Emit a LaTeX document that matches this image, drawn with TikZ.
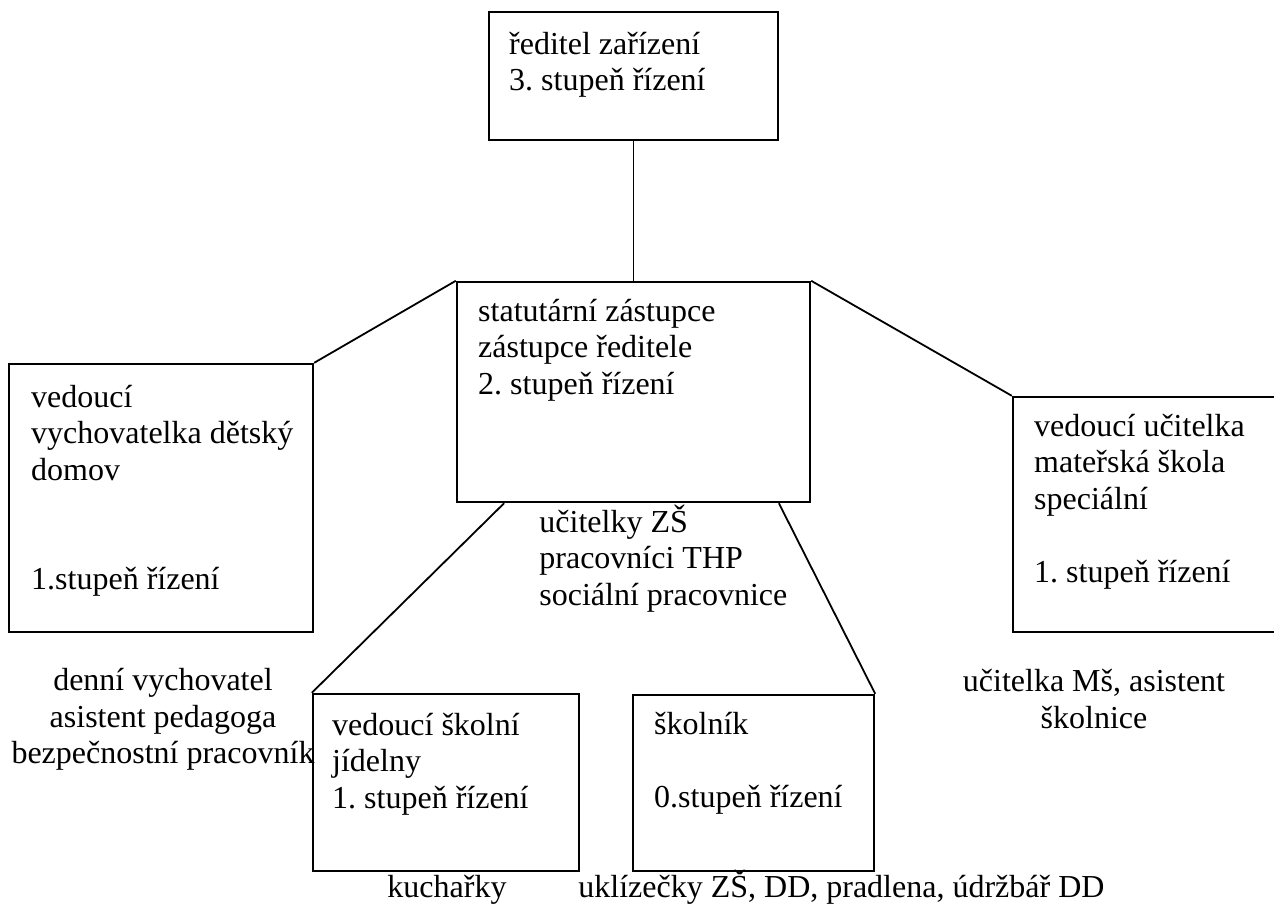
\documentclass[tikz,border=0pt]{standalone}
\usepackage{fontspec}
\setmainfont{Liberation Serif}
\usetikzlibrary{positioning,calc}
\frenchspacing
\tikzset{
  box/.style={draw,line width=1.2pt,inner sep=0pt},
  txt/.style={align=left,inner sep=0pt,anchor=north west},
  link/.style={line width=0.9pt}
}

\begin{document}
\begin{tikzpicture}[x=0.5pt,y=-0.5pt,font=\fontsize{16}{18.25}\selectfont]
      \useasboundingbox (0,0) rectangle (1274,908);

      \node [box,minimum width=144.5pt,minimum height=64pt] (dir) at (633.5,76) {};
      \node [box,minimum width=176.5pt,minimum height=110pt] (zast) at (633.5,392) {};
      \node [box,minimum width=152pt,minimum height=134pt] (dd) at (161,498) {};
      \node [box,minimum width=133.5pt,minimum height=117.5pt] (ms) at (1146.5,514.5) {};
      \node [box,minimum width=133pt,minimum height=88.5pt] (jid) at (446,782.5) {};
      \node [box,minimum width=120.5pt,minimum height=88pt] (skol) at (753.5,783) {};

      \node [txt,below right=10.5pt and 10.5pt of dir.north west] (dirT) {ředitel zařízení\\3. stupeň řízení};
      \node [txt,below right=9pt and 11pt of zast.north west] (zastT) {statutární zástupce\\zástupce ředitele\\2. stupeň řízení};
      \node [txt,below right=11pt and 11.5pt of dd.north west] (ddT) {vedoucí\\vychovatelka dětský\\domov\\[36.5pt]1.stupeň řízení};
      \node [txt,below right=9pt and 11pt of ms.north west] (msT) {vedoucí učitelka\\mateřská škola\\speciální\\[18.25pt]1. stupeň řízení};
      \node [txt,below right=10pt and 10pt of jid.north west] (jidT) {vedoucí školní\\jídelny\\1. stupeň řízení};
      \node [txt,below right=9pt and 11pt of skol.north west] (skolT) {školník\\[18.25pt]0.stupeň řízení};

      \node [txt] (zastPod) at (539,504.5) {učitelky ZŠ\\pracovníci THP\\sociální pracovnice};
      \node [align=center,inner sep=0pt,anchor=north] (ddPod) at (163,668) {denní vychovatel\\asistent pedagoga\\bezpečnostní pracovník};
      \node [align=center,inner sep=0pt,anchor=north] (msPod) at (1094,669) {učitelka Mš, asistent\\školnice};
      \node [inner sep=0pt,anchor=base] (kuch) at (447,897) {kuchařky};
      \node [inner sep=0pt,anchor=base west] (ukl) at (578,897) {uklízečky ZŠ, DD, pradlena, údržbář DD};

      \draw[link] (dir) -- (zast);
      \draw[link] (zast.north west) -- (dd.north east);
      \draw[link] (zast.north east) -- (ms.north west);
      \draw[link] ($(zast.south west)!.136!(zast.south east)$) -- (jid.north west);
      \draw[link] ($(zast.south west)!.909!(zast.south east)$) -- (skol.north east);
    \end{tikzpicture}
\end{document}
